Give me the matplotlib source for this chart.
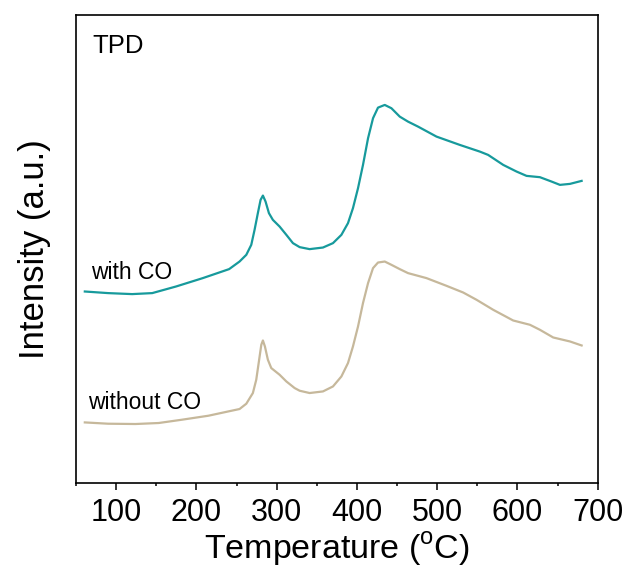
import matplotlib
matplotlib.use('Agg')
import matplotlib.pyplot as plt
from matplotlib.ticker import MultipleLocator

plt.rcParams['font.family'] = ['Liberation Sans', 'DejaVu Sans']
plt.rcParams['mathtext.fontset'] = 'custom'
plt.rcParams['mathtext.rm'] = 'Liberation Sans'

# TPD profiles (intensity in arbitrary units)
temp_with_co = [61, 90, 120, 145, 174.6, 208, 240.8, 253.8, 262.2, 268.4, 272.5, 276.6,
                280, 282.9, 286.2, 290.4, 295.3, 303.7, 312.1, 320.3, 328.7, 341.1, 357.7,
                370.2, 380.7, 388.9, 395.1, 401.4, 407.6, 413.9, 420.1, 426.3, 434.7, 443,
                453.4, 463.7, 476.2, 499.2, 528.2, 553.2, 563.5, 582.3, 599, 611.4, 628,
                642.6, 653, 665.5, 680]
int_with_co = [191.3, 189.7, 188.7, 189.7, 196.3, 204.7, 213.7, 221.3, 228, 238, 253, 269.7,
               283, 287.3, 281.3, 269.7, 263, 256.3, 248, 239.7, 235.7, 233.7, 235.3,
               239.7, 248, 259.7, 274.7, 294.7, 318, 344.7, 364.7, 375.3, 378, 374.7,
               366.3, 361.3, 356.3, 346.3, 338, 331.3, 328, 318, 311.3, 307, 305.7,
               301.3, 298, 299, 302]

temp_without_co = [61, 90, 124, 153, 182, 215, 241, 253.8, 262.2, 270.4, 274.6, 277.9,
                   280.9, 282.9, 285.4, 289.1, 293.3, 303.7, 312.1, 322.4, 328.7, 341.1,
                   357.7, 370.2, 380.7, 388.9, 395.1, 401.4, 407.6, 413.9, 420.1, 426.3,
                   434.7, 443, 453.4, 463.7, 486.7, 511.6, 532.4, 549.1, 569.8, 594.7,
                   615.6, 628, 644.6, 665.5, 680]
int_without_co = [60.3, 59, 58.7, 59.7, 63, 67, 71.5, 73.7, 79, 89.7, 103, 121.3,
                  138, 142.3, 136.3, 123, 114.7, 108, 101.3, 94.7, 92, 89.7,
                  91.3, 96.3, 106.3, 119.7, 136.3, 156.3, 179.7, 199.7, 214.7, 220.3,
                  221.3, 218, 213.7, 209.7, 204.7, 197, 190.3, 183, 173, 162.3,
                  158, 153, 145.3, 141.3, 137.3]

fig = plt.figure(figsize=(6.29, 5.70), dpi=100)
ax = fig.add_axes([0.1208, 0.1532, 0.8294, 0.8205])

ax.plot(temp_with_co, int_with_co, color='#179a9c', lw=1.6)
ax.plot(temp_without_co, int_without_co, color='#c6b89b', lw=1.6)

ax.text(69, 210, 'with CO', fontsize=16.5, va='center')
ax.text(65.5, 80, 'without CO', fontsize=16.5, va='center')
ax.text(70.5, 437, 'TPD', fontsize=18.5, va='center')

ax.set_xlim(50, 700)
ax.set_ylim(0, 468)
ax.xaxis.set_major_locator(MultipleLocator(100))
ax.xaxis.set_minor_locator(MultipleLocator(50))
ax.set_yticks([])
ax.tick_params(axis='x', which='major', direction='out', length=5, width=1.1,
               labelsize=22, pad=6)
ax.tick_params(axis='x', which='minor', direction='out', length=2.5, width=1.1)
for s in ax.spines.values():
    s.set_linewidth(1.2)

ax.set_xlabel('Temperature ($^{\\rm o}$C)', fontsize=24.5, labelpad=2)
ax.set_ylabel('Intensity (a.u.)', fontsize=25, labelpad=18)

fig.savefig('out.png', dpi=100)
